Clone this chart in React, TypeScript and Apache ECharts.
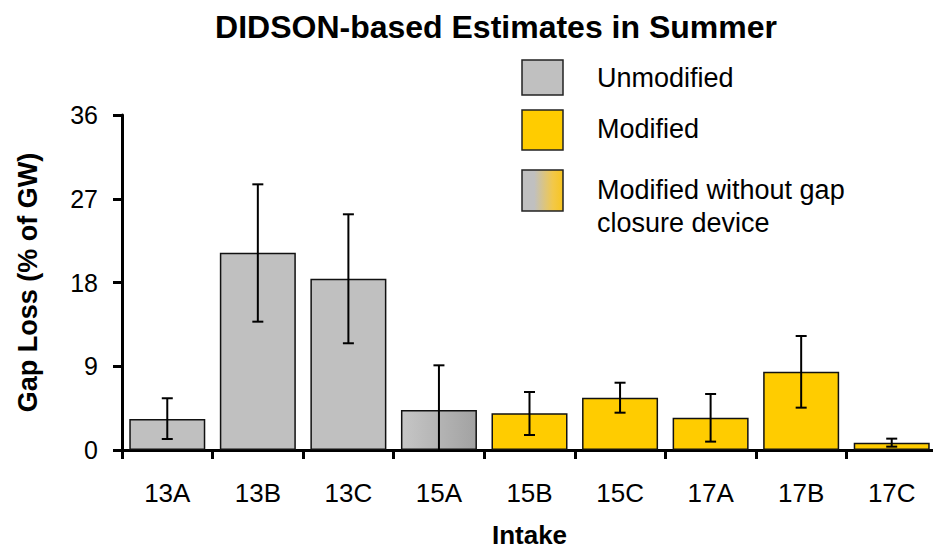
import React, { useEffect, useRef } from "react";
import * as echarts from "echarts";

const categories = ["13A", "13B", "13C", "15A", "15B", "15C", "17A", "17B", "17C"];
const values = [3.33, 21.2, 18.41, 4.3, 3.94, 5.62, 3.47, 8.42, 0.79];
const errLow = [1.18, 13.79, 11.47, -0.5, 1.61, 4.01, 0.9, 4.55, 0.36];
const errHigh = [5.56, 28.55, 25.33, 9.1, 6.23, 7.23, 6.02, 12.25, 1.22];
// 0 = Unmodified, 1 = Modified, 2 = Modified without gap closure device
const groups = [0, 0, 0, 2, 1, 1, 1, 1, 1];
const legendLabels = ["Unmodified", "Modified", "Modified without gap\nclosure device"];
const yTicks = [0, 9, 18, 27, 36];

const GRAY = "#c0c0c0";
const YELLOW = "#ffcc00";
const FONT = "Liberation Sans, Arial, sans-serif";

function barFill(g: number) {
  if (g === 0) return GRAY;
  if (g === 1) return YELLOW;
  return new echarts.graphic.LinearGradient(0, 0, 1, 0, [
    { offset: 0, color: "#c6c6c6" },
    { offset: 1, color: "#a2a2a2" },
  ]);
}

const legendGradient = new echarts.graphic.LinearGradient(0, 0, 1, 0, [
  { offset: 0, color: "#c0c0c0" },
  { offset: 0.3, color: "#c0c0c0" },
  { offset: 0.75, color: "#f2c84a" },
  { offset: 1, color: "#f8c520" },
]);

export default function App() {
  const ref = useRef<HTMLDivElement>(null);
  useEffect(() => {
    if (!ref.current) return;
    const chart = echarts.init(ref.current, undefined, { renderer: "svg" });
    const option: any = {
      animation: false,
      backgroundColor: "#ffffff",
      title: {
        text: "DIDSON-based Estimates in Summer",
        left: 491,
        top: 6,
        textAlign: "center",
        textStyle: { fontFamily: FONT, fontWeight: "bold", fontSize: 32, color: "#000" },
      },
      grid: { left: 122, right: -4, top: 115, bottom: 99, outerBoundsMode: "none", containLabel: false },
      xAxis: {
        type: "category",
        data: categories,
        name: "Intake",
        nameLocation: "middle",
        nameGap: 72,
        nameTextStyle: { fontFamily: FONT, fontWeight: "bold", fontSize: 26, color: "#000" },
        axisLine: { lineStyle: { color: "#000", width: 3 } },
        axisTick: { show: true, length: 9, lineStyle: { color: "#000", width: 3 } },
        axisLabel: { fontFamily: FONT, fontSize: 26, color: "#000", margin: 30 },
      },
      yAxis: {
        type: "value",
        min: 0,
        max: 36,
        interval: 9,
        name: "Gap Loss (% of GW)",
        nameLocation: "middle",
        nameGap: 81,
        nameTextStyle: { fontFamily: FONT, fontWeight: "bold", fontSize: 27, color: "#000" },
        axisLine: { show: true, lineStyle: { color: "#000", width: 3 } },
        axisTick: { show: true, length: 9, lineStyle: { color: "#000", width: 3 } },
        axisLabel: {
          fontFamily: FONT,
          fontSize: 25,
          color: "#000",
          margin: 24,
          formatter: (v: number) => (yTicks.includes(v) ? String(v) : ""),
        },
        splitLine: { show: false },
      },
      series: [
        {
          type: "bar",
          barWidth: 76,
          data: values.map((v, i) => ({
            value: v,
            itemStyle: { color: barFill(groups[i]), borderColor: "#111", borderWidth: 1.5 },
          })),
          z: 2,
        },
        {
          type: "custom",
          z: 5,
          data: categories.map((_, i) => [i, errLow[i], errHigh[i]]),
          renderItem: (params: any, api: any) => {
            const idx = api.value(0);
            const lo = api.value(1);
            const hi = api.value(2);
            const top = api.coord([idx, hi]);
            const bot = api.coord([idx, Math.max(lo, 0)]);
            const half = 5.5;
            const style = { stroke: "#000", lineWidth: 2 };
            const children: any[] = [
              { type: "line", shape: { x1: top[0], y1: top[1], x2: bot[0], y2: bot[1] }, style },
              { type: "line", shape: { x1: top[0] - half, y1: top[1], x2: top[0] + half, y2: top[1] }, style },
            ];
            if (lo >= 0) {
              children.push({
                type: "line",
                shape: { x1: bot[0] - half, y1: bot[1], x2: bot[0] + half, y2: bot[1] },
                style,
              });
            }
            return { type: "group", children };
          },
        },
      ],
      graphic: [
        { type: "rect", shape: { x: 522, y: 60, width: 41, height: 35 }, style: { fill: GRAY, stroke: "#222", lineWidth: 1.5 } },
        { type: "rect", shape: { x: 522, y: 110, width: 41, height: 40 }, style: { fill: YELLOW, stroke: "#222", lineWidth: 1.5 } },
        { type: "rect", shape: { x: 522, y: 170, width: 41, height: 41 }, style: { fill: legendGradient, stroke: "#222", lineWidth: 1.5 } },
        { type: "text", x: 597, y: 78, style: { text: legendLabels[0], font: `27px ${FONT}`, fill: "#000", verticalAlign: "middle" } },
        { type: "text", x: 597, y: 129, style: { text: legendLabels[1], font: `27px ${FONT}`, fill: "#000", verticalAlign: "middle" } },
        { type: "text", x: 597, y: 206, style: { text: legendLabels[2], font: `27px ${FONT}`, fill: "#000", verticalAlign: "middle", lineHeight: 33 } },
      ],
    };
    chart.setOption(option);
    return () => chart.dispose();
  }, []);
  return (
    <div
      ref={ref}
      style={{ position: "absolute", left: 0, top: 0, width: 933, height: 549, background: "#fff" }}
    />
  );
}
